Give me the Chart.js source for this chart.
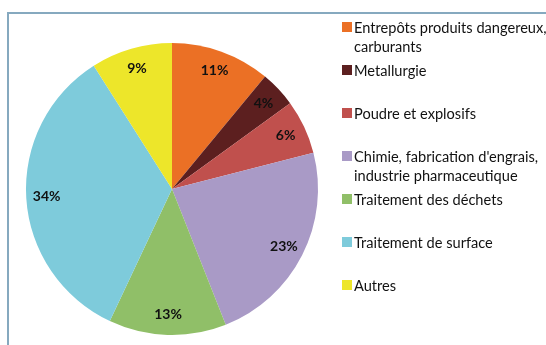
<!DOCTYPE html>
<html>
<head>
<meta charset="utf-8">
<script src="https://cdn.jsdelivr.net/npm/chart.js@4.4.1/dist/chart.umd.min.js"></script>
<style>
  html, body { margin: 0; padding: 0; background: #fff; }
  #wrap { position: relative; width: 546px; height: 345px; overflow: hidden; }
  #frame {
    position: absolute; left: 7px; top: 12px; width: 700px; height: 500px;
    border-left: 2px solid #86a9bf; border-top: 2px solid #86a9bf;
  }
  #chart { position: absolute; left: 0; top: 0; }
  #legend { position: absolute; left: 0; top: 0; font-family: Lato, sans-serif; font-size: 14.6px; color: #111; }
  .item { position: absolute; left: 342px; width: 210px; line-height: 19px; }
  .box { position: absolute; left: 0; top: 4px; width: 10px; height: 10px; }
  .txt { position: absolute; left: 12px; white-space: pre; }
</style>
</head>
<body>
<div id="wrap">
  <div id="frame"></div>
  <canvas id="chart" width="546" height="345"></canvas>
  <div id="legend"></div>
</div>
<script>
// sectors, share in %
const sectors = [
  "Entrepôts produits dangereux,\ncarburants",
  "Metallurgie",
  "Poudre et explosifs",
  "Chimie, fabrication d'engrais,\nindustrie pharmaceutique",
  "Traitement des déchets",
  "Traitement de surface",
  "Autres",
];
const shares = [11, 4, 6, 23, 13, 34, 9];
const colors = ["#eb7025", "#5c1f1f", "#c0504d", "#a99ac6", "#90bf68", "#7ecbdb", "#ede62a"];

// percent labels inside each slice
const sliceLabels = {
  id: "sliceLabels",
  afterDatasetsDraw(chart) {
    const ctx = chart.ctx;
    const meta = chart.getDatasetMeta(0);
    ctx.save();
    ctx.font = "bold 14px Lato, sans-serif";
    ctx.fillStyle = "#111";
    ctx.textAlign = "center";
    ctx.textBaseline = "middle";
    meta.data.forEach((arc, i) => {
      const mid = (arc.startAngle + arc.endAngle) / 2;
      const r = arc.outerRadius * 0.86;
      ctx.fillText(shares[i] + "%", arc.x + Math.cos(mid) * r, arc.y + Math.sin(mid) * r);
    });
    ctx.restore();
  },
};

const ctx = document.getElementById("chart").getContext("2d");
const chart = new Chart(ctx, {
  type: "pie",
  data: {
    labels: sectors.map((s) => s.replace("\n", " ")),
    datasets: [
      {
        data: shares,
        backgroundColor: colors,
        borderWidth: 0,
      },
    ],
  },
  options: {
    responsive: false,
    animation: false,
    layout: { padding: { left: 26, top: 43, right: 228, bottom: 10 } },
    plugins: {
      legend: { display: false },
      tooltip: { enabled: false },
    },
  },
  plugins: [sliceLabels],
});

// legend on the right
const legend = document.getElementById("legend");
sectors.forEach((name, i) => {
  const item = document.createElement("div");
  item.className = "item";
  item.style.top = (18 + i * 43) + "px";
  item.innerHTML = '<span class="box" style="background:' + colors[i] + '"></span><span class="txt"></span>';
  item.querySelector(".txt").textContent = name;
  legend.appendChild(item);
});
</script>
</body>
</html>
